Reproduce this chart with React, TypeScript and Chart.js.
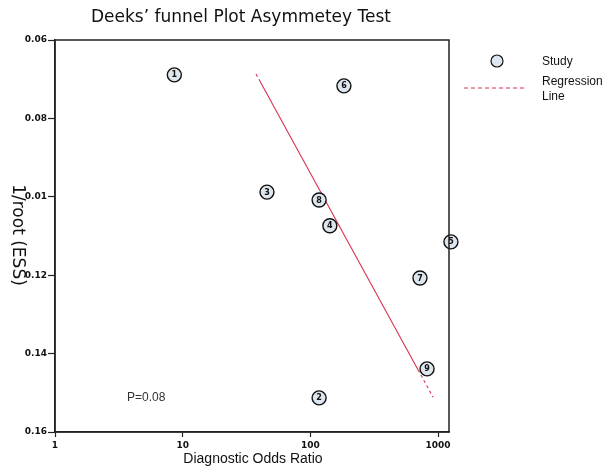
import React, { useEffect, useRef } from 'react';
import { Chart, registerables } from 'chart.js';

Chart.register(...registerables);

// Study data (Diagnostic Odds Ratio vs 1/root(ESS))
const studyIds = ['1', '2', '3', '4', '5', '6', '7', '8', '9'];
const studyDor = [8.6, 117, 45.7, 142, 1260, 183, 721, 117, 819];
const studyInvRootEss = [0.0689, 0.1513, 0.0988, 0.1074, 0.1115, 0.0717, 0.1207, 0.1008, 0.1439];

// Regression line (endpoints plus where the dash pattern changes)
const regressionDor = [37.5, 40.3, 696, 912];
const regressionInvRootEss = [0.0687, 0.0705, 0.1441, 0.1511];

// Axis ticks
const xTickValues = [1, 10, 100, 1000];
const yTickValues = [0.06, 0.08, 0.1, 0.12, 0.14, 0.16];
const yTickLabels = ['0.06', '0.08', '0.01', '0.12', '0.14', '0.16'];

const titleText = 'Deeks\u2019 funnel Plot Asymmetey Test';
const xTitle = 'Diagnostic Odds Ratio';
const yTitle = '1/root (ESS)';
const pText = 'P=0.08';
const legendStudy = 'Study';
const legendLine = ['Regression', 'Line'];

const lineColor = '#d8324f';
const pointFill = '#dde6ee';

export default function App() {
  const canvasRef = useRef<HTMLCanvasElement | null>(null);

  useEffect(() => {
    const canvas = canvasRef.current;
    if (!canvas) return;

    const overlay = {
      id: 'overlay',
      afterDatasetsDraw(chart: any) {
        const ctx = chart.ctx;
        const meta = chart.getDatasetMeta(0);
        ctx.save();
        ctx.fillStyle = '#111';
        ctx.font = 'bold 8px "DejaVu Sans"';
        ctx.textAlign = 'center';
        ctx.textBaseline = 'middle';
        meta.data.forEach((el: any, i: number) => {
          ctx.fillText(studyIds[i], el.x, el.y + 0.5);
        });
        ctx.restore();
      },
      afterDraw(chart: any) {
        const ctx = chart.ctx;
        const a = chart.chartArea;
        ctx.save();
        // box
        ctx.strokeStyle = '#222';
        ctx.lineWidth = 1.5;
        ctx.strokeRect(a.left, a.top, a.right - a.left, a.bottom - a.top);

        // title
        ctx.fillStyle = '#111';
        ctx.textAlign = 'center';
        ctx.textBaseline = 'middle';
        ctx.font = '17px "DejaVu Sans"';
        ctx.fillText(titleText, 241, 18);

        // x title
        ctx.font = '14px "Liberation Sans"';
        ctx.fillText(xTitle, 253, 459);

        // y title
        ctx.save();
        ctx.translate(17, 235);
        ctx.rotate(Math.PI / 2);
        ctx.font = '17px "DejaVu Sans"';
        ctx.fillText(yTitle, 0, 0);
        ctx.restore();

        // P value
        ctx.textAlign = 'left';
        ctx.fillStyle = '#333';
        ctx.font = '12px "Liberation Sans"';
        ctx.fillText(pText, 127, 398);

        // legend
        ctx.beginPath();
        ctx.arc(497, 61, 6, 0, Math.PI * 2);
        ctx.fillStyle = pointFill;
        ctx.fill();
        ctx.strokeStyle = '#111';
        ctx.lineWidth = 1.2;
        ctx.stroke();

        ctx.fillStyle = '#111';
        ctx.font = '12px "Liberation Sans"';
        ctx.fillText(legendStudy, 542, 62);
        ctx.fillText(legendLine[0], 542, 82);
        ctx.fillText(legendLine[1], 542, 97);

        ctx.beginPath();
        ctx.setLineDash([4, 3]);
        ctx.strokeStyle = lineColor;
        ctx.lineWidth = 1;
        ctx.moveTo(464, 88);
        ctx.lineTo(524, 88);
        ctx.stroke();
        ctx.restore();
      },
    };

    const chart = new Chart(canvas, {
      type: 'scatter',
      data: {
        datasets: [
          {
            label: 'Study',
            data: studyDor.map((x, i) => ({ x, y: studyInvRootEss[i] })),
            pointRadius: 7,
            pointHoverRadius: 7,
            backgroundColor: pointFill,
            borderColor: '#111',
            borderWidth: 1.4,
            clip: false as any,
            order: 0,
          },
          {
            label: 'Regression Line',
            type: 'line',
            data: regressionDor.map((x, i) => ({ x, y: regressionInvRootEss[i] })),
            borderColor: lineColor,
            borderWidth: 1.1,
            pointRadius: 0,
            fill: false,
            tension: 0,
            order: 1,
            segment: {
              borderDash: (c: any) => (c.p0DataIndex === 1 ? [] : [3, 3]),
            },
          } as any,
        ],
      },
      options: {
        animation: false,
        responsive: false,
        maintainAspectRatio: false,
        layout: { padding: { top: 40, right: 162, left: 0, bottom: 0 } },
        plugins: {
          legend: { display: false },
          title: { display: false },
          tooltip: { enabled: false },
        },
        scales: {
          x: {
            type: 'logarithmic',
            min: 1,
            max: 1217,
            afterBuildTicks: (s: any) => {
              s.ticks = xTickValues.map((v) => ({ value: v }));
            },
            afterFit: (s: any) => {
              s.height = 39;
            },
            ticks: {
              autoSkip: false,
              maxRotation: 0,
              padding: 3,
              color: '#111',
              font: { family: 'DejaVu Sans', size: 9, weight: 'bold' },
              callback: (v: any) => String(v),
            },
            grid: {
              drawOnChartArea: false,
              drawTicks: true,
              tickLength: 5,
              tickColor: '#222',
              tickWidth: 1.2,
            },
            border: { display: true, color: '#222', width: 1.5 },
          },
          y: {
            type: 'linear',
            reverse: true,
            min: 0.06,
            max: 0.16,
            afterBuildTicks: (s: any) => {
              s.ticks = yTickValues.map((v) => ({ value: v }));
            },
            afterFit: (s: any) => {
              s.width = 55;
            },
            ticks: {
              padding: 1,
              color: '#111',
              font: { family: 'DejaVu Sans', size: 9, weight: 'bold' },
              callback: (v: any) => {
                const idx = yTickValues.findIndex((t) => Math.abs(t - Number(v)) < 1e-6);
                return idx >= 0 ? yTickLabels[idx] : '';
              },
            },
            grid: {
              drawOnChartArea: false,
              drawTicks: true,
              tickLength: 7,
              tickColor: '#222',
              tickWidth: 1.2,
            },
            border: { display: true, color: '#222', width: 1.5 },
          },
        },
      },
      plugins: [overlay],
    } as any);

    return () => chart.destroy();
  }, []);

  return (
    <div style={{ position: 'fixed', left: 0, top: 0, width: 611, height: 471, background: '#fff' }}>
      <canvas ref={canvasRef} width={611} height={471} style={{ width: 611, height: 471 }} />
    </div>
  );
}
